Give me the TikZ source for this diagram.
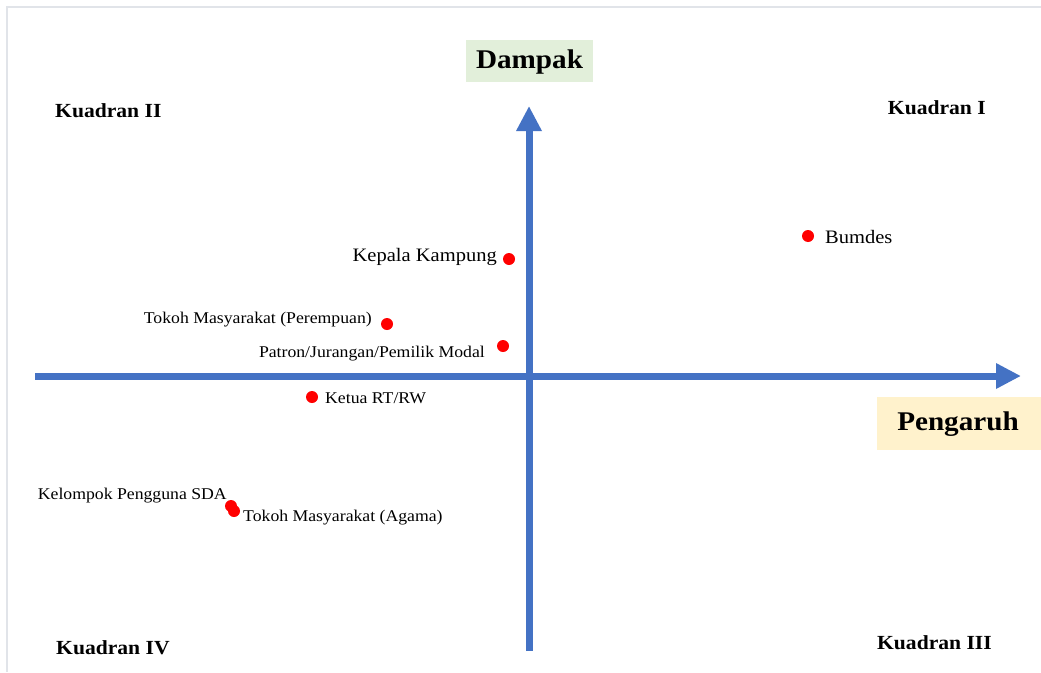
\documentclass[tikz,border=0pt]{standalone}
\usepackage{fontspec}
\setmainfont{Liberation Serif}[FakeStretch=1.08]
\usetikzlibrary{arrows.meta}
\definecolor{axisblue}{HTML}{4472C4}
\definecolor{dotred}{HTML}{FF0000}
\definecolor{greenfill}{HTML}{E2EFDA}
\definecolor{yellowfill}{HTML}{FFF2CC}
\definecolor{framegray}{HTML}{E1E4E9}
\tikzset{
  axis/.style={draw=axisblue, line width=7pt, -{Triangle[length=25pt,width=24pt]}},
  pt/.style={circle, fill=dotred, inner sep=0pt, minimum size=12pt},
  quad/.style={inner sep=0pt, font=\fontsize{20}{24}\selectfont\bfseries},
  title/.style={inner sep=0pt, font=\fontsize{27}{32}\selectfont\bfseries},
  biglab/.style={inner sep=0pt, font=\fontsize{19}{23}\selectfont},
  smalllab/.style={inner sep=0pt, font=\fontsize{16.4}{20}\selectfont}
}
\begin{document}
\begin{tikzpicture}[x=1pt,y=-1pt]
\useasboundingbox (0,0) rectangle (1041,672);
% frame
\draw[framegray, line width=2pt] (7,672) -- (7,7) -- (1041,7);
% boxes
\fill[greenfill] (466,40) rectangle (593,82);
\fill[yellowfill] (877,397) rectangle (1041,450);
\node[title] (dampak) at (529.5,62) {Dampak};
\node[title] (pengaruh) at (958,424) {Pengaruh};
% axes
\coordinate (xl) at (35,376);
\coordinate (xr) at (1021,376);
\coordinate (yb) at (529,651);
\coordinate (yt) at (529,106);
\draw[axis] (xl) -- (xr);
\draw[axis] (yb) -- (yt);
% quadrants
\node[quad, anchor=west] (q2) at (55,111) {Kuadran II};
\node[quad, anchor=east] (q1) at (986,108) {Kuadran I};
\node[quad, anchor=west] (q4) at (56,648) {Kuadran IV};
\node[quad, anchor=east] (q3) at (992,643) {Kuadran III};
% points
\node[pt] (pkk) at (509,259) {};
\node[biglab, anchor=east] (lkk) at (497,257) {Kepala Kampung};
\node[pt] (pbum) at (808,236) {};
\node[biglab, anchor=west] (lbum) at (825,237) {Bumdes};
\node[pt] (ptmp) at (387,324) {};
\node[smalllab, anchor=east] (ltmp) at (372,320) {Tokoh Masyarakat (Perempuan)};
\node[pt] (ppat) at (503,346) {};
\node[smalllab, anchor=east] (lpat) at (485,354) {Patron/Jurangan/Pemilik Modal};
\node[pt] (prt) at (312,397) {};
\node[smalllab, anchor=west] (lrt) at (325,398) {Ketua RT/RW};
\node[pt] (pkel) at (231,506) {};
\node[pt] (pag) at (234,511) {};
\node[smalllab, anchor=east] (lkel) at (227,496) {Kelompok Pengguna SDA};
\node[smalllab, anchor=west] (lag) at (243,518) {Tokoh Masyarakat (Agama)};
\end{tikzpicture}
\end{document}
